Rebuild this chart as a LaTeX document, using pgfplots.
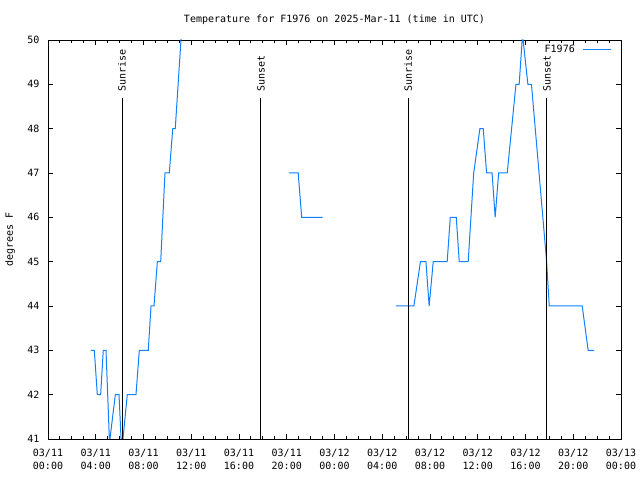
\documentclass[border=0pt]{standalone}
\usepackage{pgfplots}
\pgfplotsset{compat=1.18}
\usepackage{fontspec}
\setmainfont{DejaVu Sans Mono}
\definecolor{gpblue}{RGB}{16,128,255}
\begin{document}
\fontsize{10bp}{13bp}\selectfont
\begin{tikzpicture}
\begin{axis}[
  at={(48bp,41bp)}, anchor=south west,
  width=573bp, height=399bp, scale only axis,
  xmin=0, xmax=48, ymin=41, ymax=50,
  xtick={0,4,...,48}, minor x tick num=3,
  ytick={41,42,...,50},
  xticklabels={03/11\\00:00,03/11\\04:00,03/11\\08:00,03/11\\12:00,03/11\\16:00,03/11\\20:00,03/12\\00:00,03/12\\04:00,03/12\\08:00,03/12\\12:00,03/12\\16:00,03/12\\20:00,03/13\\00:00},
  xticklabel style={align=center, font=\fontsize{10bp}{13bp}\selectfont, yshift=-7bp},
  yticklabel style={xshift=-5bp},
  /pgf/number format/assume math mode=true,
  tick align=inside, major tick length=5bp, minor tick length=3bp,
  axis line style={line width=0.9bp},
  every tick/.style={black, line width=0.9bp},
  title={Temperature for F1976 on 2025-Mar-11 (time in UTC)},
  title style={at={(0.5,1)}, anchor=center, yshift=14bp},
  ylabel={degrees F},
  ylabel style={at={(axis description cs:-0.066,0.5)}, anchor=center, rotate=0},
  legend plot pos=right,
  legend style={draw=none, fill=none, at={(axis description cs:1,1)}, anchor=north east, xshift=-9bp, yshift=-3bp, inner sep=0pt, column sep=6bp},
  legend image code/.code={\draw[#1] (0bp,0bp) -- (28bp,0bp);},
]
\addplot[gpblue, line width=1bp] coordinates {
(3.60,43) (3.88,43) (4.13,42) (4.41,42) (4.63,43) (4.86,43) (5.14,41) (5.19,41)
(5.64,42) (5.95,42) (6.12,41) (6.28,41) (6.64,42) (7.37,42) (7.65,43) (8.40,43)
(8.63,44) (8.88,44) (9.16,45) (9.44,45) (9.80,47) (10.16,47) (10.45,48) (10.66,48)
(11.14,50) (11.40,51)
};
\addlegendentry{F1976}
\addplot[gpblue, line width=1bp, forget plot] coordinates {
(20.18,47) (20.96,47) (21.25,46) (23.00,46)
};
\addplot[gpblue, line width=1bp, forget plot] coordinates {
(29.15,44) (30.65,44) (31.20,45) (31.66,45) (31.93,44) (32.27,45) (33.44,45)
(33.70,46) (34.20,46) (34.45,45) (35.20,45) (35.66,47) (36.18,48) (36.46,48)
(36.74,47) (37.20,47) (37.46,46) (37.75,47) (38.47,47) (39.20,49) (39.47,49)
(39.72,50) (39.80,50) (40.20,49) (40.50,49) (41.77,45) (41.99,44) (44.75,44)
(45.25,43) (45.75,43)
};
\addplot[black, line width=1bp, forget plot] coordinates {(6.20,41) (6.20,48.69)};
\addplot[black, line width=1bp, forget plot] coordinates {(17.84,41) (17.84,48.69)};
\addplot[black, line width=1bp, forget plot] coordinates {(30.16,41) (30.16,48.69)};
\addplot[black, line width=1bp, forget plot] coordinates {(41.80,41) (41.80,48.69)};
\node[rotate=90, anchor=west, inner sep=0pt] at (axis cs:6.20,48.83) {Sunrise};
\node[rotate=90, anchor=west, inner sep=0pt] at (axis cs:17.84,48.83) {Sunset};
\node[rotate=90, anchor=west, inner sep=0pt] at (axis cs:30.16,48.83) {Sunrise};
\node[rotate=90, anchor=west, inner sep=0pt] at (axis cs:41.80,48.83) {Sunset};
\end{axis}
\pgfresetboundingbox
\path (0,0) rectangle (640bp,480bp);
\end{tikzpicture}
\end{document}
